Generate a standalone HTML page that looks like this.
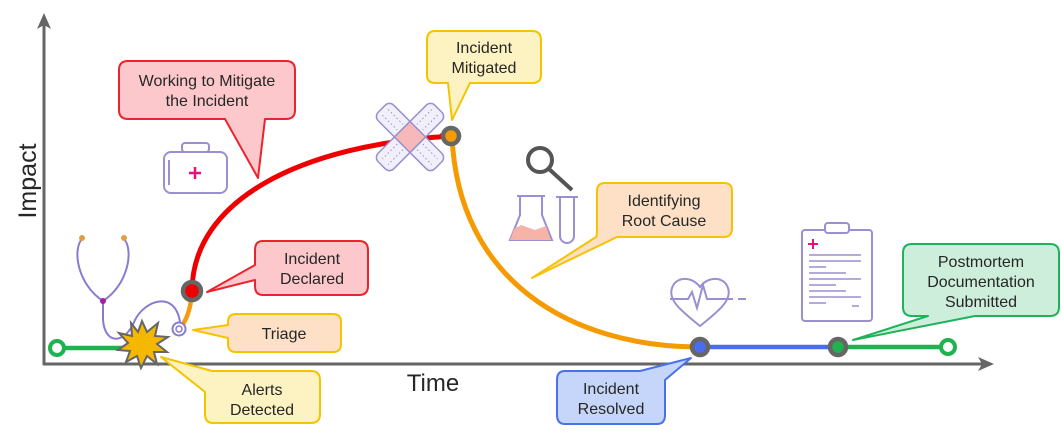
<!DOCTYPE html>
<html><head><meta charset="utf-8"><style>
html,body{margin:0;padding:0;background:#fff;}
svg{display:block;}
text{font-family:"Liberation Sans",sans-serif;fill:#262626;}
</style></head><body>
<svg width="1061" height="433" viewBox="0 0 1061 433" xmlns="http://www.w3.org/2000/svg">
<line x1="44" y1="365" x2="44" y2="22" stroke="#666" stroke-width="3"/>
<polygon points="44,13 37,29 44,25 51,29" fill="#666"/>
<line x1="43" y1="364" x2="985" y2="364" stroke="#666" stroke-width="3"/>
<polygon points="994,364 978,357 982,364 978,371" fill="#666"/>
<text x="0" y="0" font-size="25" text-anchor="middle" transform="translate(36,181) rotate(-90)">Impact</text>
<text x="433" y="391" font-size="24" text-anchor="middle">Time</text>

<g stroke="#9a8fd0" stroke-width="2" fill="none">
<rect x="182" y="143" width="27" height="9" rx="3"/>
<rect x="164" y="152" width="63" height="41" rx="7" fill="#fff"/>
<line x1="169" y1="160" x2="169" y2="185"/>
</g>
<g stroke="#e6127a" stroke-width="2.5"><line x1="189" y1="173" x2="201" y2="173"/><line x1="195" y1="167" x2="195" y2="179"/></g>

<g stroke="#8a7bd0" stroke-width="2" fill="none">
<path d="M82,239 C72,250 78,285 103,301 C128,285 134,250 124,239"/>
<path d="M103,301 L103,320 C105,345 125,345 135,320 C145,300 175,290 180,322"/>
</g>
<circle cx="82" cy="238" r="3" fill="#e0a040"/><circle cx="124" cy="238" r="3" fill="#e0a040"/>
<circle cx="103" cy="301" r="3" fill="#a020a0"/>

<line x1="57" y1="348" x2="130" y2="348" stroke="#1eb34e" stroke-width="4.5"/>
<circle cx="57" cy="348" r="7" fill="#fff" stroke="#1eb34e" stroke-width="4"/>
<path d="M179,329 Q190,318 192,292" stroke="#f39c12" stroke-width="4.5" fill="none"/>
<path d="M192,292 C192,200 300,145 452,136" stroke="#ef0000" stroke-width="5" fill="none"/>
<path d="M452,136 C458,280 570,347 700,347" stroke="#f59a00" stroke-width="5" fill="none"/>
<line x1="700" y1="347" x2="838" y2="347" stroke="#4a6cf0" stroke-width="4.5"/>
<line x1="838" y1="347" x2="948" y2="347" stroke="#1eb34e" stroke-width="4.5"/>
<circle cx="948" cy="347" r="7" fill="#fff" stroke="#1eb34e" stroke-width="4"/>

<polygon points="142,321 147,332 158,323 155,336 168,337 157,344 167,352 154,352 157,364 147,356 141,368 137,356 126,362 130,351 118,350 128,343 119,333 132,336 131,323 138,332" fill="#f5b800" stroke="#666" stroke-width="2"/>
<circle cx="179" cy="329" r="6.5" fill="#fff" stroke="#8a7bd0" stroke-width="2"/>
<circle cx="179" cy="329" r="3" fill="#fff" stroke="#8a7bd0" stroke-width="1.5"/>

<circle cx="192" cy="291" r="9" fill="#ef0000" stroke="#666" stroke-width="4.5"/>

<g transform="translate(410,137) rotate(45)" stroke="#9a8fd0" stroke-width="1.5">
<rect x="-40" y="-11" width="80" height="22" rx="6" fill="#f1f0fa"/>
<rect x="-11" y="-40" width="22" height="80" rx="6" fill="#f1f0fa"/>
<rect x="-11" y="-11" width="22" height="22" fill="#f6b8b8"/>
<g stroke-dasharray="1.5 2.5" stroke-width="1">
<line x1="-35" y1="-4" x2="-14" y2="-4"/><line x1="-35" y1="4" x2="-14" y2="4"/>
<line x1="14" y1="-4" x2="35" y2="-4"/><line x1="14" y1="4" x2="35" y2="4"/>
<line x1="-4" y1="-35" x2="-4" y2="-14"/><line x1="4" y1="-35" x2="4" y2="-14"/>
<line x1="-4" y1="14" x2="-4" y2="35"/><line x1="4" y1="14" x2="4" y2="35"/>
</g>
</g>
<line x1="440" y1="136" x2="448" y2="136" stroke="#ef0000" stroke-width="5"/>
<circle cx="451" cy="136" r="8" fill="#f59a00" stroke="#666" stroke-width="4.5"/>
<circle cx="700" cy="347" r="8" fill="#4a6cf0" stroke="#666" stroke-width="4.5"/>
<circle cx="838" cy="347" r="8" fill="#1eb34e" stroke="#666" stroke-width="4.5"/>

<circle cx="540" cy="160" r="12" fill="none" stroke="#555" stroke-width="4"/>
<line x1="549" y1="169" x2="572" y2="190" stroke="#555" stroke-width="4"/>
<path d="M520,196 L520,215 L510,240 L552,240 L542,215 L542,196" fill="#fff" stroke="#9a8fd0" stroke-width="2"/>
<path d="M514,229 L521,225 L535,230 L546,226 L551,240 L510,240 Z" fill="#f6b3a8"/>
<line x1="517" y1="196" x2="545" y2="196" stroke="#9a8fd0" stroke-width="2"/>
<path d="M560,197 L560,236 A7,7 0 0 0 574,236 L574,197" fill="#fff" stroke="#9a8fd0" stroke-width="2"/>
<line x1="556" y1="197" x2="578" y2="197" stroke="#9a8fd0" stroke-width="2"/>

<path d="M700,326 C680,310 668,300 672,288 C676,276 692,276 700,287 C708,276 724,276 728,288 C732,300 720,310 700,326 Z" fill="none" stroke="#9a8fd0" stroke-width="2"/>
<polyline points="670,299 688,299 692,292 697,308 703,285 707,299 733,299" fill="none" stroke="#9a8fd0" stroke-width="2"/>
<line x1="738" y1="299" x2="746" y2="299" stroke="#9a8fd0" stroke-width="2"/>

<rect x="802" y="230" width="70" height="91" rx="3" fill="#fff" stroke="#9a8fd0" stroke-width="2"/>
<rect x="825" y="223" width="24" height="10" rx="3" fill="#fff" stroke="#9a8fd0" stroke-width="2"/>
<g stroke="#e6127a" stroke-width="2"><line x1="808" y1="244" x2="818" y2="244"/><line x1="813" y1="239" x2="813" y2="249"/></g>
<g stroke="#9a8fd0" stroke-width="1.5">
<line x1="809" y1="255" x2="861" y2="255"/><line x1="809" y1="261" x2="861" y2="261"/><line x1="809" y1="267" x2="826" y2="267"/>
<line x1="809" y1="273" x2="846" y2="273"/><line x1="809" y1="279" x2="861" y2="279"/><line x1="809" y1="285" x2="836" y2="285"/>
<line x1="809" y1="291" x2="846" y2="291"/><line x1="809" y1="297" x2="861" y2="297"/><line x1="809" y1="303" x2="826" y2="303"/>
<line x1="852" y1="306" x2="859" y2="306"/></g>

<g stroke-width="2" stroke-linejoin="round">
<path d="M128,61 H286 Q295,61 295,70 V110 Q295,119 286,119 H265 L258,178 L225,119 H128 Q119,119 119,110 V70 Q119,61 128,61 Z" fill="#fcc8cb" stroke="#e8252e"/>
<path d="M435,31 H532 Q541,31 541,40 V75 Q541,83 532,83 H470 L452,120 L448,83 H435 Q427,83 427,75 V40 Q427,31 435,31 Z" fill="#fdf3c2" stroke="#f4c400"/>
<path d="M263,241 H359 Q368,241 368,250 V286 Q368,295 359,295 H263 Q255,295 255,286 V280 L207,292 L255,265 V250 Q255,241 263,241 Z" fill="#fcc8cb" stroke="#e8252e"/>
<path d="M236,314 H333 Q341,314 341,322 V344 Q341,352 333,352 H236 Q228,352 228,344 V338 L193,330 L228,325 V322 Q228,314 236,314 Z" fill="#fde0c6" stroke="#f7c300"/>
<path d="M213,371 H311 Q320,371 320,380 V414 Q320,423 311,423 H213 Q205,423 205,414 V392 L161,357 L212,371 Z" fill="#fdf3c2" stroke="#f4c400"/>
<path d="M605,183 H724 Q732,183 732,191 V228 Q732,237 724,237 H617 L532,278 L596,237 Q597,237 597,228 V191 Q597,183 605,183 Z" fill="#fde0c6" stroke="#f7c300"/>
<path d="M565,371 H640 L691,358 L665,380 V415 Q665,424 657,424 H565 Q557,424 557,415 V380 Q557,371 565,371 Z" fill="#c6d6fa" stroke="#4a72e8"/>
<path d="M912,244 H1050 Q1059,244 1059,253 V307 Q1059,316 1050,316 H975 L853,340 L928,316 H912 Q903,316 903,307 V253 Q903,244 912,244 Z" fill="#cdeedb" stroke="#1eb35a"/>
</g>
<g font-size="16" text-anchor="middle">
<text x="207" y="86">Working to Mitigate</text><text x="207" y="106">the Incident</text>
<text x="484" y="53">Incident</text><text x="484" y="73">Mitigated</text>
<text x="312" y="264">Incident</text><text x="312" y="284">Declared</text>
<text x="284" y="339">Triage</text>
<text x="262" y="395">Alerts</text><text x="262" y="415">Detected</text>
<text x="664" y="206">Identifying</text><text x="664" y="226">Root Cause</text>
<text x="611" y="394">Incident</text><text x="611" y="414">Resolved</text>
<text x="981" y="267">Postmortem</text><text x="981" y="287">Documentation</text><text x="981" y="307">Submitted</text>
</g>
</svg>
</body></html>
